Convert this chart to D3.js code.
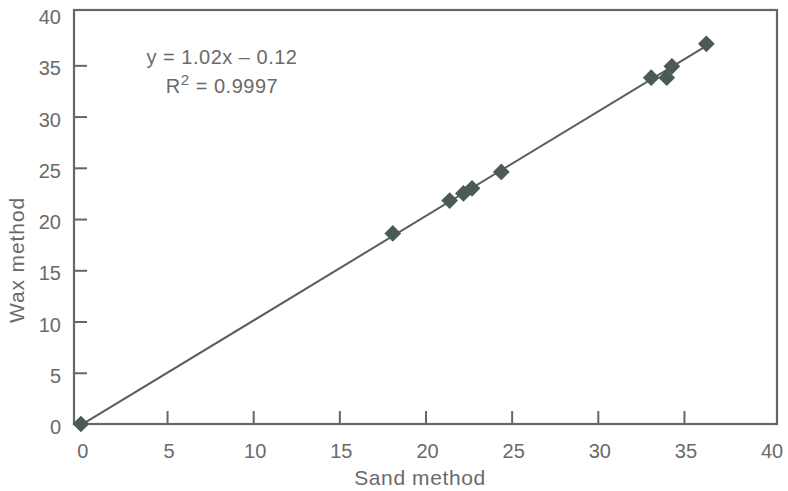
<!DOCTYPE html>
<html>
<head>
<meta charset="utf-8">
<script src="https://cdn.jsdelivr.net/npm/d3@7"></script>
<style>
  html, body { margin: 0; padding: 0; background: #fff; }
  svg text { font-family: "Liberation Sans", Arial, Helvetica, sans-serif; fill: #6a6a6a; }
</style>
</head>
<body>
<svg id="chart" width="788" height="491"></svg>
<script>
// Sand-method vs wax-method measurements
const sandValues = [0, 18.1, 21.4, 22.2, 22.7, 24.4, 33.1, 34.0, 34.3, 36.3];
const waxValues  = [0, 18.6, 21.8, 22.5, 23.0, 24.6, 33.8, 33.8, 34.9, 37.1];

// Linear fit shown on the chart
const fitSlope = 1.02;
const fitIntercept = -0.12;
const fitLabel = "y = 1.02x \u2013 0.12";
const r2Label = "0.9997";

const xTicks = [0, 5, 10, 15, 20, 25, 30, 35, 40];
const yTicks = [0, 5, 10, 15, 20, 25, 30, 35, 40];

const svg = d3.select("#chart");
const plotLeft = 74, plotRight = 777, plotTop = 10, plotBottom = 424;

const x = d3.scaleLinear().domain([-0.4, 40.4]).range([plotLeft, plotRight]);
const y = d3.scaleLinear().domain([0, 40.4]).range([plotBottom, plotTop]);

const frameColor = "#666666";
const markColor = "#4b5a52";

// plot frame
svg.append("rect")
  .attr("x", plotLeft).attr("y", plotTop)
  .attr("width", plotRight - plotLeft).attr("height", plotBottom - plotTop)
  .attr("fill", "none").attr("stroke", frameColor).attr("stroke-width", 2.2);

// inward ticks on the bottom axis
const xAxis = d3.axisTop(x).tickValues(xTicks.filter(d => d > 0 && d < 40))
  .tickSize(13).tickFormat("");
svg.append("g").attr("transform", `translate(0,${plotBottom})`).call(xAxis)
  .call(g => g.select(".domain").remove())
  .call(g => g.selectAll("line").attr("stroke", frameColor).attr("stroke-width", 2));

// inward ticks on the left axis
const yAxis = d3.axisRight(y).tickValues(yTicks.filter(d => d > 0 && d < 40))
  .tickSize(13).tickFormat("");
svg.append("g").attr("transform", `translate(${plotLeft},0)`).call(yAxis)
  .call(g => g.select(".domain").remove())
  .call(g => g.selectAll("line").attr("stroke", frameColor).attr("stroke-width", 2));

// tick labels
svg.append("g").selectAll("text").data(xTicks).join("text")
  .attr("x", d => x(d) + 2).attr("y", 458)
  .attr("text-anchor", "middle").attr("font-size", 20)
  .text(d => d);

svg.append("g").selectAll("text").data(yTicks).join("text")
  .attr("x", 61).attr("y", d => y(d) + 3)
  .attr("dy", "0.35em")
  .attr("text-anchor", "end").attr("font-size", 20)
  .text(d => d);

// axis titles
svg.append("text")
  .attr("x", 420).attr("y", 485)
  .attr("text-anchor", "middle").attr("font-size", 21)
  .attr("letter-spacing", 0.6)
  .text("Sand method");

svg.append("text")
  .attr("transform", "translate(24,260) rotate(-90)")
  .attr("text-anchor", "middle").attr("font-size", 21)
  .attr("letter-spacing", 0.9)
  .text("Wax method");

// regression line
const fitX = d3.extent(sandValues);
svg.append("line")
  .attr("x1", x(fitX[0])).attr("y1", y(fitSlope * fitX[0] + fitIntercept))
  .attr("x2", x(fitX[1])).attr("y2", y(fitSlope * fitX[1] + fitIntercept))
  .attr("stroke", "#56605a").attr("stroke-width", 2);

// data points as diamonds
const diamond = d3.symbol().type(d3.symbolSquare).size(140);
svg.append("g").selectAll("path").data(sandValues).join("path")
  .attr("d", diamond)
  .attr("transform", (d, i) => `translate(${x(d)},${y(waxValues[i])}) rotate(45)`)
  .attr("fill", markColor);

// equation annotation
const eq = svg.append("text").attr("text-anchor", "middle").attr("font-size", 20)
  .attr("letter-spacing", 0.5);
eq.append("tspan").attr("x", 222).attr("y", 64).text(fitLabel);
const r2 = svg.append("text").attr("text-anchor", "middle").attr("font-size", 20)
  .attr("letter-spacing", 0.5).attr("x", 222).attr("y", 93);
r2.append("tspan").text("R");
r2.append("tspan").attr("font-size", 15).attr("dy", -8).text("2");
r2.append("tspan").attr("dy", 8).text(" = " + r2Label);
</script>
</body>
</html>
